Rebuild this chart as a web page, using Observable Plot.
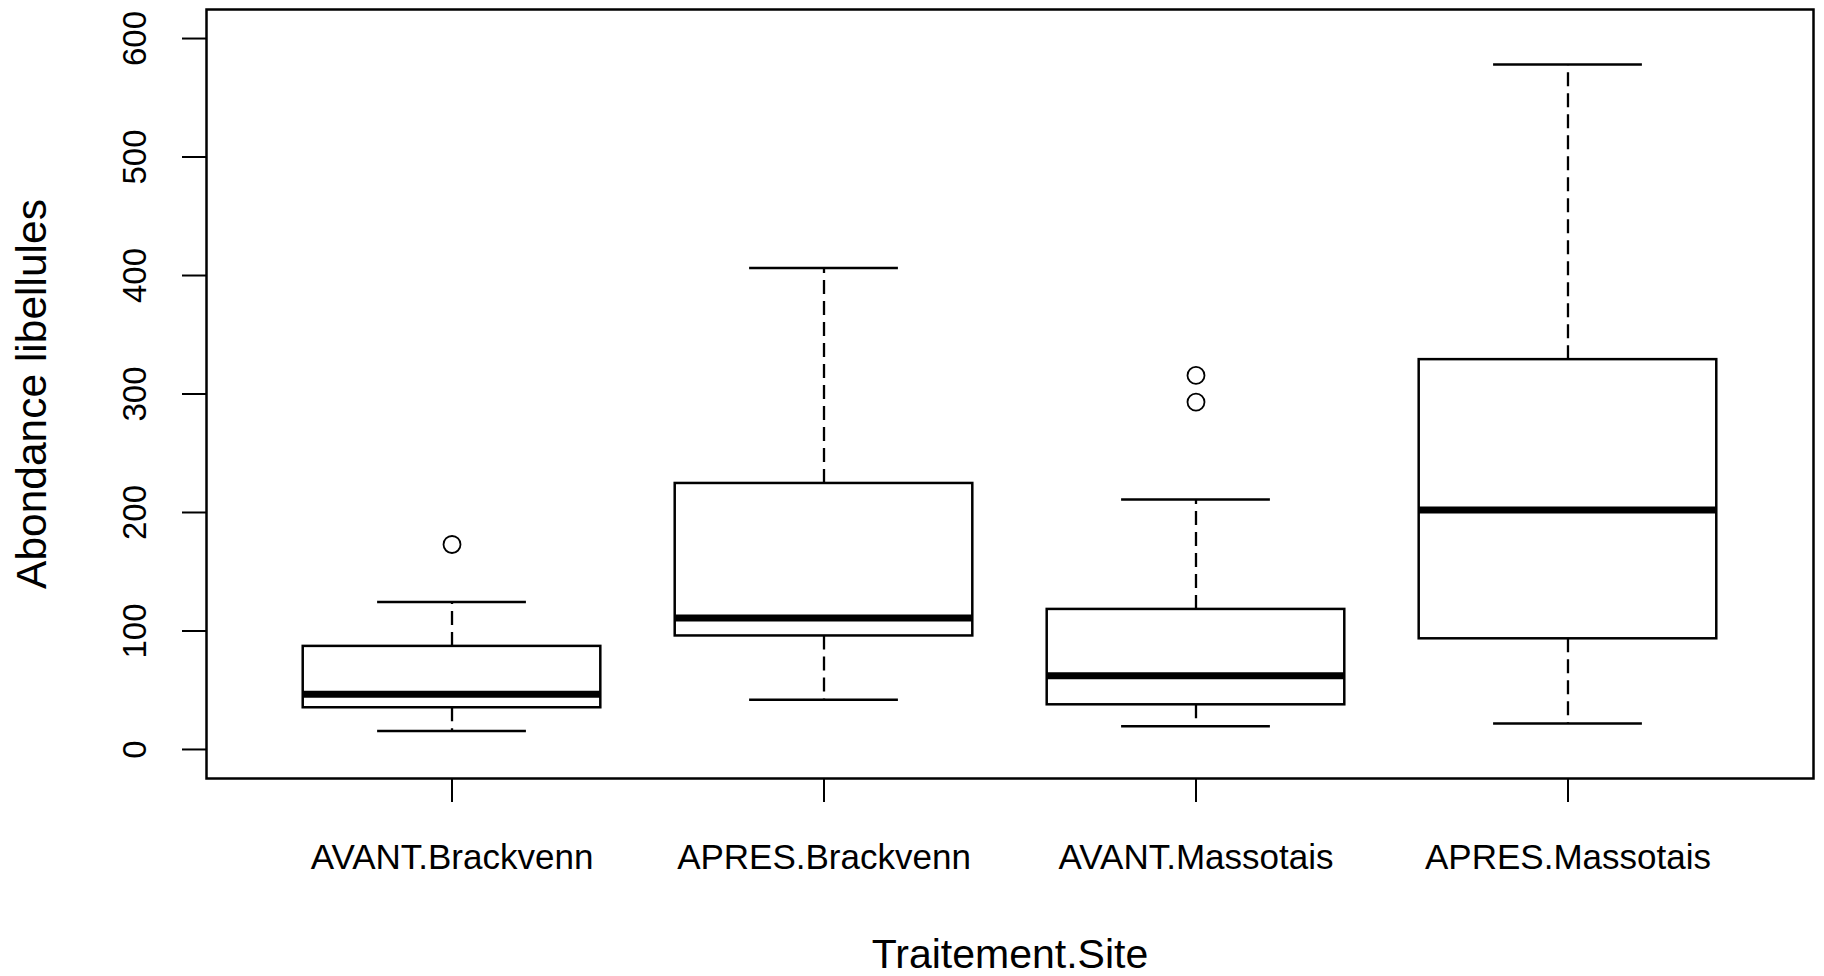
<!DOCTYPE html>
<html><head><meta charset="utf-8">
<script src="https://cdn.jsdelivr.net/npm/d3@7"></script>
<script src="https://cdn.jsdelivr.net/npm/@observablehq/plot@0.6"></script>
<style>
html,body{margin:0;padding:0;background:#fff;}
svg{display:block}
g[aria-label="x-axis label"] text {font-size:41px}
g[aria-label="y-axis label"] text {font-size:42.5px}
g[aria-label="y-axis tick label"] text {font-size:33px}
</style></head><body><div id="chart"></div>
<script>
const categories = ["AVANT.Brackvenn", "APRES.Brackvenn", "AVANT.Massotais", "APRES.Massotais"];
const lowerWhisker = [15.5, 42, 19.7, 22];
const q1 = [35.2, 95.8, 37.7, 93.4];
const median = [46.7, 110.9, 62.2, 202];
const q3 = [87, 224.5, 118.2, 329];
const upperWhisker = [124.4, 406.4, 211, 578];
const outlierGroup = [1, 3, 3];
const outlierValue = [173, 315.7, 293.2];
const yTicks = [0, 100, 200, 300, 400, 500, 600];

const boxes = categories.map((c, i) => ({
  pos: i + 1, cat: c, lo: lowerWhisker[i], q1: q1[i], med: median[i], q3: q3[i], hi: upperWhisker[i]
}));
const outliers = outlierValue.map((v, i) => ({pos: outlierGroup[i], v}));

const dash = "14,7";
const chart = Plot.plot({
  width: 1824,
  height: 976,
  marginLeft: 206,
  marginRight: 11,
  marginTop: 9,
  marginBottom: 198,
  style: {fontFamily: "'Liberation Sans', Arial, sans-serif", fontSize: "35px", color: "black", background: "white"},
  x: {domain: [0.34, 4.66]},
  y: {domain: [-24.5, 624.5]},
  marks: [
    Plot.ruleX(boxes, {x: "pos", y1: "q3", y2: "hi", stroke: "black", strokeWidth: 2.3, strokeDasharray: dash}),
    Plot.ruleX(boxes, {x: "pos", y1: "q1", y2: "lo", stroke: "black", strokeWidth: 2.3, strokeDasharray: dash}),
    Plot.ruleY(boxes, {y: "hi", x1: d => d.pos - 0.2, x2: d => d.pos + 0.2, stroke: "black", strokeWidth: 2.5}),
    Plot.ruleY(boxes, {y: "lo", x1: d => d.pos - 0.2, x2: d => d.pos + 0.2, stroke: "black", strokeWidth: 2.5}),
    Plot.rect(boxes, {x1: d => d.pos - 0.4, x2: d => d.pos + 0.4, y1: "q1", y2: "q3", fill: "white", stroke: "black", strokeWidth: 2.5}),
    Plot.ruleY(boxes, {y: "med", x1: d => d.pos - 0.4, x2: d => d.pos + 0.4, stroke: "black", strokeWidth: 7}),
    Plot.dot(outliers, {x: "pos", y: "v", r: 8.5, stroke: "black", strokeWidth: 1.8}),
    Plot.frame({stroke: "black", strokeWidth: 2.5}),
    Plot.axisY({
      ticks: yTicks, tickFormat: d => String(d), tickSize: 24, tickRotate: -90, tickPadding: 37,
      strokeWidth: 2, label: "Abondance libellules", labelAnchor: "center", labelOffset: 191, labelArrow: "none"
    }),
    Plot.axisX({
      ticks: [1, 2, 3, 4], tickFormat: d => categories[d - 1], tickSize: 24, tickPadding: 42,
      strokeWidth: 2, label: "Traitement.Site", labelAnchor: "center", labelOffset: 189, labelArrow: "none"
    })
  ]
});
document.getElementById("chart").appendChild(chart);
</script>
</body></html>
